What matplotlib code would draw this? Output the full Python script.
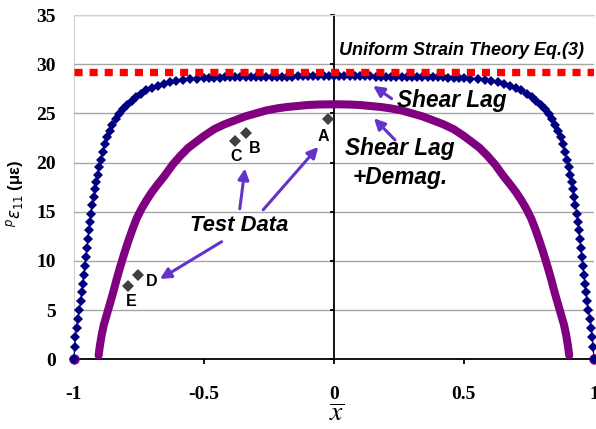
import matplotlib
matplotlib.use('Agg')
import matplotlib.pyplot as plt

# ── data ──
# shear lag model (blue diamonds)
blue_x = [-1.000, -0.997, -0.994, -0.990, -0.985, -0.979, -0.974, -0.970, -0.966, -0.962,
          -0.958, -0.954, -0.950, -0.946, -0.942, -0.938, -0.934, -0.929, -0.924, -0.919,
          -0.914, -0.909, -0.903, -0.897, -0.890, -0.882, -0.873, -0.863, -0.852, -0.840,
          -0.826, -0.811, -0.795, -0.778, -0.760, -0.741, -0.721, -0.700, -0.678, -0.655,
          -0.631, -0.606, -0.580, -0.553, -0.525, -0.500,
          -0.48, -0.46, -0.44, -0.42, -0.40, -0.38, -0.36, -0.34, -0.32, -0.30,
          -0.28, -0.26, -0.24, -0.22, -0.20, -0.18, -0.16, -0.14, -0.12, -0.10,
          -0.08, -0.06, -0.04, -0.02, 0.00, 0.02, 0.04, 0.06, 0.08, 0.10,
          0.12, 0.14, 0.16, 0.18, 0.20, 0.22, 0.24, 0.26, 0.28, 0.30,
          0.32, 0.34, 0.36, 0.38, 0.40, 0.42, 0.44, 0.46, 0.48,
          0.500, 0.525, 0.553, 0.580, 0.606, 0.631, 0.655, 0.678, 0.700, 0.721,
          0.741, 0.760, 0.778, 0.795, 0.811, 0.826, 0.840, 0.852, 0.863, 0.873,
          0.882, 0.890, 0.897, 0.903, 0.909, 0.914, 0.919, 0.924, 0.929, 0.934,
          0.938, 0.942, 0.946, 0.950, 0.954, 0.958, 0.962, 0.966, 0.970, 0.974,
          0.979, 0.985, 0.990, 0.994, 0.997, 1.000]
blue_y = [0.0, 1.3, 2.3, 3.2, 4.1, 5.0, 5.9, 6.8, 7.7, 8.6,
          9.5, 10.4, 11.3, 12.2, 13.1, 14.0, 14.8, 15.7, 16.5, 17.3,
          18.0, 18.7, 19.5, 20.3, 21.1, 21.9, 22.6, 23.2, 23.8, 24.4,
          24.9, 25.4, 25.9, 26.3, 26.7, 27.0, 27.35, 27.6, 27.8, 28.0,
          28.15, 28.3, 28.4, 28.48, 28.54, 28.58,
          28.6, 28.62, 28.63, 28.65, 28.66, 28.67, 28.68, 28.69, 28.7, 28.71,
          28.72, 28.72, 28.73, 28.73, 28.74, 28.74, 28.74, 28.75, 28.75, 28.75,
          28.75, 28.75, 28.75, 28.75, 28.75, 28.75, 28.75, 28.75, 28.75, 28.75,
          28.75, 28.75, 28.74, 28.74, 28.74, 28.73, 28.73, 28.72, 28.72, 28.71,
          28.7, 28.69, 28.68, 28.67, 28.66, 28.65, 28.63, 28.62, 28.6,
          28.58, 28.54, 28.48, 28.4, 28.3, 28.15, 28.0, 27.8, 27.6, 27.35,
          27.0, 26.7, 26.3, 25.9, 25.4, 24.9, 24.4, 23.8, 23.2, 22.6,
          21.9, 21.1, 20.3, 19.5, 18.7, 18.0, 17.3, 16.5, 15.7, 14.8,
          14.0, 13.1, 12.2, 11.3, 10.4, 9.5, 8.6, 7.7, 6.8, 5.9,
          5.0, 4.1, 3.2, 2.3, 1.3, 0.0]

# shear lag + demagnetization (purple)
purple_x = [-0.905, -0.900, -0.893, -0.885, -0.874, -0.862, -0.849, -0.836, -0.823, -0.807,
            -0.791, -0.775, -0.759, -0.740, -0.720, -0.700, -0.680, -0.650, -0.620, -0.590,
            -0.560, -0.530, -0.500, -0.460, -0.420, -0.380, -0.340, -0.300, -0.260, -0.220,
            -0.180, -0.140, -0.100, -0.060, -0.020, 0.020, 0.060, 0.100, 0.140, 0.180,
            0.220, 0.260, 0.300, 0.340, 0.380, 0.420, 0.460, 0.500, 0.530, 0.560,
            0.590, 0.620, 0.650, 0.680, 0.700, 0.720, 0.740, 0.759, 0.775, 0.791,
            0.807, 0.823, 0.836, 0.849, 0.862, 0.874, 0.885, 0.893, 0.900, 0.905]
purple_y = [0.4, 1.4, 2.5, 3.5, 4.5, 5.6, 6.8, 8.1, 9.3, 10.7,
            12.0, 13.2, 14.3, 15.3, 16.2, 17.0, 17.7, 18.7, 19.8, 20.7,
            21.5, 22.1, 22.7, 23.4, 23.9, 24.3, 24.7, 25.0, 25.3, 25.5,
            25.65, 25.75, 25.85, 25.9, 25.92, 25.92, 25.9, 25.85, 25.75, 25.65,
            25.5, 25.3, 25.0, 24.7, 24.3, 23.9, 23.4, 22.7, 22.1, 21.5,
            20.7, 19.8, 18.7, 17.7, 17.0, 16.2, 15.3, 14.3, 13.2, 12.0,
            10.7, 9.3, 8.1, 6.8, 5.6, 4.5, 3.5, 2.5, 1.4, 0.4]
purple_end_x = [-1.0, 1.0]
purple_end_y = [0.0, 0.0]

# uniform strain theory
uniform_x = [-1.0, 1.0]
uniform_y = [29.2, 29.2]

# test data
test_labels = ['A', 'B', 'C', 'D', 'E']
test_x = [-0.022, -0.338, -0.381, -0.753, -0.791]
test_y = [24.4, 23.0, 22.2, 8.6, 7.4]
label_x = [-0.040, -0.304, -0.377, -0.700, -0.781]
label_y = [22.6, 21.4, 20.6, 7.9, 5.85]

yticks = [0, 5, 10, 15, 20, 25, 30, 35]
xticks = [-1, -0.5, 0, 0.5, 1]
xticklabels = ['-1', '-0.5', '0', '0.5', '1']

arrow_c = '#6333CC'
sans = 'Liberation Sans'
serif = 'Liberation Serif'

fig = plt.figure(figsize=(5.96, 4.29), dpi=100)
ax = fig.add_axes([0.124, 0.1625, 0.8725, 0.8025])

ax.plot(uniform_x, uniform_y, color='#FF0000', lw=5.3, dashes=(1.1, 0.95),
        solid_capstyle='butt', dash_capstyle='butt', zorder=5)
ax.plot(purple_x, purple_y, color='#800080', lw=5.8, solid_capstyle='round', zorder=3)
ax.plot(purple_end_x, purple_end_y, 'o', color='#800080', ms=6.5, clip_on=False, zorder=3)
ax.plot(blue_x, blue_y, color='#000080', lw=0.9, marker='D', ms=5, mew=0,
        clip_on=False, zorder=4)
ax.plot(test_x, test_y, 'D', color='#404040', ms=6, mew=0, zorder=6)

for lab, lx, ly in zip(test_labels, label_x, label_y):
    ax.text(lx, ly, lab, fontsize=11.5, fontweight='bold', family=sans,
            ha='center', va='center', zorder=7)

ax.text(0.02, 31.4, 'Uniform Strain Theory Eq.(3)', fontsize=13, fontweight='bold',
        style='italic', family=sans, ha='left', va='center')
ax.text(0.242, 26.35, 'Shear Lag', fontsize=16.3, fontweight='bold', style='italic',
        family=sans, ha='left', va='center')
ax.text(0.042, 21.45, 'Shear Lag', fontsize=16.3, fontweight='bold', style='italic',
        family=sans, ha='left', va='center')
ax.text(0.073, 18.5, '+Demag.', fontsize=16.3, fontweight='bold', style='italic',
        family=sans, ha='left', va='center')
ax.text(-0.554, 13.6, 'Test Data', fontsize=15.8, fontweight='bold', style='italic',
        family=sans, ha='left', va='center')

arrows = [((0.222, 26.5), (0.151, 27.8)),
          ((0.235, 22.3), (0.154, 24.5)),
          ((-0.362, 15.3), (-0.342, 19.4)),
          ((-0.272, 15.2), (-0.060, 21.6)),
          ((-0.432, 11.95), (-0.669, 8.16))]
for tail, head in arrows:
    ax.annotate('', xy=head, xytext=tail,
                arrowprops=dict(arrowstyle='-|>', color=arrow_c, lw=2.2,
                                mutation_scale=16, shrinkA=0, shrinkB=0),
                zorder=8)

# axes styling
ax.set_xlim(-1, 1)
ax.set_ylim(0, 35)
ax.set_yticks(yticks)
ax.yaxis.grid(True, color='#a6a6a6', lw=1)
ax.set_axisbelow(True)
ax.spines['right'].set_visible(False)
ax.spines['top'].set_color('#d0d0d0')
ax.spines['left'].set_position(('data', 0))
ax.spines['left'].set_linewidth(1.3)
ax.spines['bottom'].set_linewidth(1.3)
ax.tick_params(axis='y', direction='out', length=3, width=1.3, labelleft=False)
ax.set_xticks(xticks)
ax.set_xticklabels(xticklabels, fontsize=14, fontweight='bold', family=serif)
ax.tick_params(axis='x', direction='out', length=3.5, width=1.3, pad=16)

sec = ax.secondary_yaxis('left')
sec.set_yticks(yticks)
sec.set_yticklabels([str(t) for t in yticks], fontsize=14, fontweight='bold', family=serif)
sec.tick_params(length=0, pad=13)
sec.spines['left'].set_color('#d0d0d0')

fig.text(15 / 596, 1 - 193 / 429, r'$^{p}\varepsilon_{11}$ (με)', rotation=90,
         fontsize=12, fontweight='bold', family=sans, ha='center', va='center')
fig.text(337 / 596, 1 - 415 / 429, r'$\overline{x}$', fontsize=20, family=serif,
         ha='center', va='center', math_fontfamily='stix')

fig.savefig('out.png', dpi=100)
